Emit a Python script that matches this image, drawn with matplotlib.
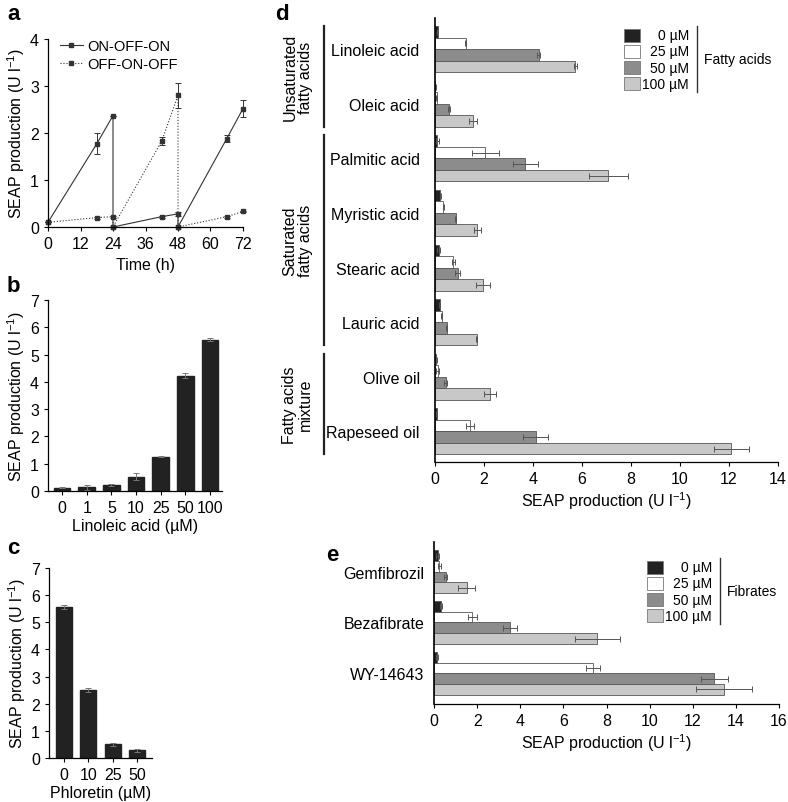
import matplotlib.pyplot as plt
from matplotlib.patches import Rectangle
from matplotlib.lines import Line2D
import numpy as np

plt.rcParams['font.family'] = ['Liberation Sans', 'DejaVu Sans']
plt.rcParams['mathtext.default'] = 'regular'
plt.rcParams['axes.linewidth'] = 0.9

# ---- panel a: time course
time_h = [0, 18, 24, 24, 42, 48, 48, 66, 72]
on_off_on = [0.1, 1.77, 2.37, 0, 0.22, 0.28, 0, 1.88, 2.52]
on_off_on_err = [0, 0.22, 0, 0, 0.02, 0.04, 0, 0.07, 0.18]
off_on_off = [0.1, 0.2, 0.22, 0, 1.83, 2.8, 0, 0.22, 0.33]
off_on_off_err = [0, 0.02, 0.02, 0, 0.08, 0.27, 0, 0.02, 0.02]

# ---- panel b: linoleic acid dose response
linoleic_doses = ['0', '1', '5', '10', '25', '50', '100']
linoleic_seap = [0.12, 0.13, 0.22, 0.53, 1.25, 4.23, 5.55]
linoleic_err = [0.02, 0.08, 0.02, 0.12, 0.02, 0.1, 0.07]

# ---- panel c: phloretin
phloretin_doses = ['0', '10', '25', '50']
phloretin_seap = [5.55, 2.5, 0.5, 0.28]
phloretin_err = [0.07, 0.08, 0.07, 0.07]

# ---- panel d: fatty acids (0, 25, 50, 100 uM)
fatty_names = ['Linoleic acid', 'Oleic acid', 'Palmitic acid', 'Myristic acid',
               'Stearic acid', 'Lauric acid', 'Olive oil', 'Rapeseed oil']
fatty_0 = [0.11, 0.02, 0.1, 0.22, 0.15, 0.2, 0.05, 0.07]
fatty_25 = [1.25, 0.07, 2.05, 0.34, 0.75, 0.27, 0.11, 1.43]
fatty_50 = [4.23, 0.58, 3.69, 0.84, 0.93, 0.48, 0.44, 4.11]
fatty_100 = [5.73, 1.56, 7.07, 1.73, 1.95, 1.7, 2.23, 12.1]
fatty_0_err = [0.02, 0.02, 0.05, 0.02, 0.05, 0.02, 0.04, 0.02]
fatty_25_err = [0.03, 0.03, 0.56, 0.02, 0.06, 0.02, 0.05, 0.18]
fatty_50_err = [0.07, 0.05, 0.5, 0.03, 0.1, 0.03, 0.06, 0.5]
fatty_100_err = [0.05, 0.17, 0.8, 0.14, 0.28, 0.02, 0.25, 0.73]
fatty_groups = [('Unsaturated\nfatty acids', 0, 1),
                ('Saturated\nfatty acids', 2, 5),
                ('Fatty acids\nmixture', 6, 7)]

# ---- panel e: fibrates
fibrate_names = ['Gemfibrozil', 'Bezafibrate', 'WY-14643']
fib_0 = [0.17, 0.32, 0.15]
fib_25 = [0.25, 1.78, 7.38]
fib_50 = [0.54, 3.52, 13.0]
fib_100 = [1.51, 7.58, 13.44]
fib_0_err = [0.08, 0.03, 0.05]
fib_25_err = [0.08, 0.21, 0.34]
fib_50_err = [0.08, 0.33, 0.63]
fib_100_err = [0.41, 1.03, 1.3]

conc_labels = ['0 µM', '25 µM', '50 µM', '100 µM']
conc_colors = ['#222222', '#ffffff', '#8c8c8c', '#c8c8c8']
edge = '#555555'
ylab = 'SEAP production (U l$^{-1}$)'

W, H = 788, 803
fig = plt.figure(figsize=(W / 100, H / 100), dpi=100)


def box(l, t, r, b):
    return [l / W, 1 - b / H, (r - l) / W, (b - t) / H]


def style(ax):
    for s in ['top', 'right']:
        ax.spines[s].set_visible(False)
    ax.tick_params(direction='out', length=3, width=0.8, labelsize=11.5)


# ---------- a
ax = fig.add_axes(box(48, 40, 243, 228))
style(ax)
err_kw = dict(capsize=2, elinewidth=0.7, capthick=0.7)
for vals, errs, ls, lab in [(on_off_on, on_off_on_err, '-', 'ON-OFF-ON'),
                            (off_on_off, off_on_off_err, ':', 'OFF-ON-OFF')]:
    eb = ax.errorbar(time_h, vals, yerr=errs, color='#333333', lw=0.8, ls=ls,
                     marker='s', ms=3.5, label=lab, **err_kw)
    for art in eb.lines[0:1] + tuple(eb.lines[1]) + tuple(eb.lines[2]):
        art.set_clip_on(False)
ax.set_xlim(0, 72)
ax.set_ylim(0, 4)
ax.set_xticks(range(0, 73, 12))
ax.set_yticks(range(0, 5))
ax.set_xlabel('Time (h)', fontsize=11.5, labelpad=4)
ax.set_ylabel(ylab, fontsize=11.5, labelpad=2)
h = [Line2D([], [], color='#333333', lw=0.8, marker='s', ms=3.5),
     Line2D([], [], color='#333333', lw=0.8, ls=':', marker='s', ms=3.5)]
ax.legend(h, ['ON-OFF-ON', 'OFF-ON-OFF'], loc='upper left', bbox_to_anchor=(0.03, 1.03),
          frameon=False, fontsize=10.5, handlelength=1.6, handletextpad=0.3,
          labelspacing=0.25, borderaxespad=0)

# ---------- b
ax = fig.add_axes(box(48, 301, 222, 492))
style(ax)
xb = np.arange(len(linoleic_doses))
ax.bar(xb, linoleic_seap, 0.68, yerr=linoleic_err, color='#222222', edgecolor='#222222',
       error_kw=dict(ecolor='#777777', elinewidth=0.7, capsize=2.5, capthick=0.7))
ax.set_xlim(-0.57, 6.49)
ax.set_ylim(0, 7)
ax.set_xticks(xb)
ax.set_xticklabels(linoleic_doses)
ax.set_yticks(range(8))
ax.set_xlabel('Linoleic acid (µM)', fontsize=11.5, labelpad=2)
ax.set_ylabel(ylab, fontsize=11.5, labelpad=2)

# ---------- c
ax = fig.add_axes(box(49, 569, 152, 759))
style(ax)
xc = np.arange(len(phloretin_doses))
ax.bar(xc, phloretin_seap, 0.66, yerr=phloretin_err, color='#222222', edgecolor='#222222',
       error_kw=dict(ecolor='#777777', elinewidth=0.7, capsize=2.5, capthick=0.7))
ax.set_xlim(-0.62, 3.62)
ax.set_ylim(0, 7)
ax.set_xticks(xc)
ax.set_xticklabels(phloretin_doses)
ax.set_yticks(range(8))
ax.set_xlabel('Phloretin (µM)', fontsize=11.5, labelpad=2)
ax.set_ylabel(ylab, fontsize=11.5, labelpad=2)


def grouped_barh(ax, names, vals, errs, bh=0.21):
    pos = np.arange(len(names))
    for j, (v, e, c) in enumerate(zip(vals, errs, conc_colors)):
        ax.barh(pos + (j - 1.5) * bh, v, bh, xerr=e, color=c, edgecolor=edge, lw=0.6,
                error_kw=dict(ecolor='#555555', elinewidth=0.7, capsize=2.2, capthick=0.7))
    ax.set_yticks(pos)
    ax.set_yticklabels(names)
    ax.tick_params(axis='y', length=0)
    ax.spines['left'].set_linewidth(1.2)


def legend_block(x0, y0, title):
    # x0, y0: left edge / centre of first swatch row in pixels
    for j, (lab, c) in enumerate(zip(conc_labels, conc_colors)):
        yc = y0 + j * 16.3
        fig.add_artist(Rectangle((x0 / W, 1 - (yc + 6.5) / H), 16 / W, 13 / H,
                                 transform=fig.transFigure, facecolor=c,
                                 edgecolor='#777777', lw=0.6))
        fig.text((x0 + 65) / W, 1 - yc / H, lab, ha='right', va='center', fontsize=10)
    fig.add_artist(Line2D([(x0 + 73) / W] * 2, [1 - (y0 - 9) / H, 1 - (y0 + 3 * 16.3 + 8) / H],
                          transform=fig.transFigure, color='#333333', lw=1))
    fig.text((x0 + 80) / W, 1 - (y0 + 1.5 * 16.3) / H, title, ha='left', va='center',
             fontsize=10)


# ---------- d
ax = fig.add_axes(box(435, 19, 778, 463))
style(ax)
grouped_barh(ax, fatty_names, [fatty_0, fatty_25, fatty_50, fatty_100],
             [fatty_0_err, fatty_25_err, fatty_50_err, fatty_100_err])
ax.set_xlim(0, 14)
ax.set_xticks(range(0, 15, 2))
ax.set_ylim(7.56, -0.57)
ax.tick_params(axis='y', pad=11)
ax.set_xlabel(ylab, fontsize=11.5, labelpad=2)
trans = ax.get_yaxis_transform()
for name, i0, i1 in fatty_groups:
    ax.plot([-0.3236, -0.3236], [i0 - 0.42, i1 + 0.42], transform=trans,
            color='#222222', lw=1.6, clip_on=False)
    ax.text(-0.40, (i0 + i1) / 2, name, transform=trans, rotation=90, ha='center',
            va='center', fontsize=11.5, linespacing=1.05)
legend_block(624, 36, 'Fatty acids')

# ---------- e
ax = fig.add_axes(box(434, 543, 779, 705))
style(ax)
grouped_barh(ax, fibrate_names, [fib_0, fib_25, fib_50, fib_100],
             [fib_0_err, fib_25_err, fib_50_err, fib_100_err])
ax.set_xlim(0, 16)
ax.set_xticks(range(0, 17, 2))
ax.set_ylim(2.6, -0.58)
ax.tick_params(axis='y', pad=7)
ax.set_xlabel(ylab, fontsize=11.5, labelpad=2)
legend_block(647, 568, 'Fibrates')

# panel letters
for lab, x, y in [('a', 7, 14), ('b', 7, 287), ('c', 7, 549), ('d', 275, 14), ('e', 326, 556)]:
    fig.text(x / W, 1 - y / H, lab, fontsize=16, fontweight='bold', ha='left', va='center')

fig.savefig('out.png', dpi=100)
